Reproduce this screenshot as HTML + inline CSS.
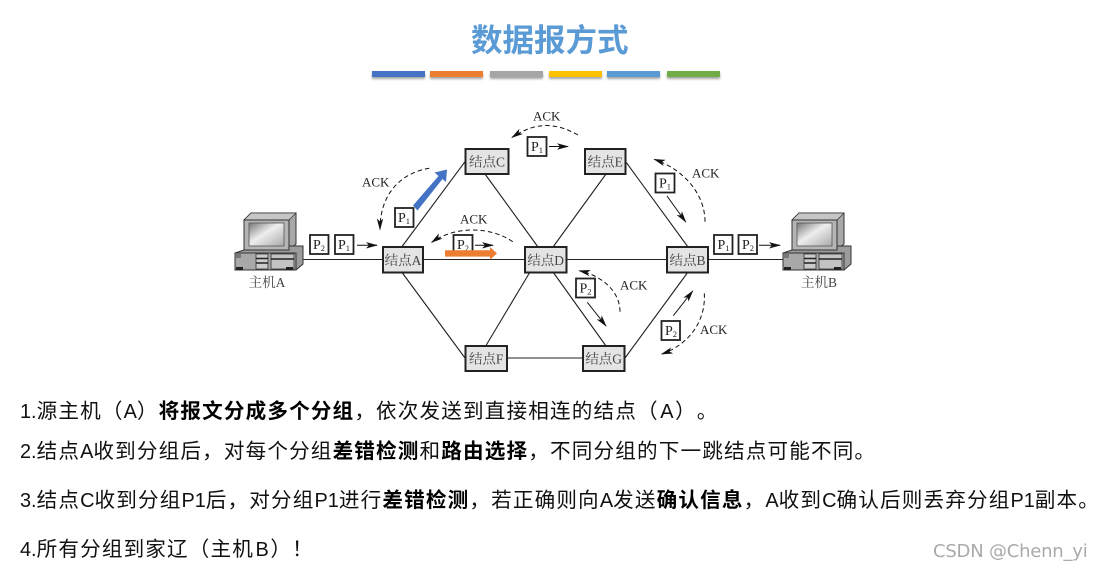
<!DOCTYPE html>
<html lang="zh-CN"><head><meta charset="utf-8"><title>数据报方式</title>
<style>
html,body{margin:0;padding:0;background:#fff}
body{position:relative;width:1101px;height:572px;overflow:hidden;font-family:"Liberation Sans","Noto Sans CJK SC",sans-serif}
.t{position:absolute;white-space:nowrap;color:#111;font-size:20.6px;letter-spacing:1.15px;line-height:28px;left:20px;text-spacing-trim:space-all;font-kerning:none}
.t i{font-style:normal;letter-spacing:0;font-size:19.9px}
.t i.m{margin:0 1.5px}
.t b{font-weight:700;color:#000}
.title{position:absolute;left:471px;top:14px;font-size:31.5px;line-height:48px;font-weight:700;color:#5b9bd5;white-space:nowrap;font-family:"Noto Sans CJK SC",sans-serif}
.bar{position:absolute;top:71px;height:6px;box-shadow:0 2px 2px rgba(90,90,90,.55)}
.wm{position:absolute;left:933px;top:540px;font-size:18px;line-height:24px;color:#aaa;white-space:nowrap;font-family:"DejaVu Sans",sans-serif;letter-spacing:-.22px}
svg{position:absolute;left:0;top:0;filter:blur(.35px)}
</style></head><body>
<div class="title">数据报方式</div>
<div class="bar" style="left:372px;width:53px;background:#4472c4"></div>
<div class="bar" style="left:430px;width:53px;background:#ed7d31"></div>
<div class="bar" style="left:490px;width:53px;background:#a5a5a5"></div>
<div class="bar" style="left:549px;width:53px;background:#ffc000"></div>
<div class="bar" style="left:607px;width:53px;background:#5b9bd5"></div>
<div class="bar" style="left:667px;width:53px;background:#70ad47"></div>

<svg width="1101" height="572" viewBox="0 0 1101 572" xmlns="http://www.w3.org/2000/svg">
<defs>
<marker id="h" viewBox="0 0 12 8" refX="11" refY="4" markerWidth="12" markerHeight="8" markerUnits="userSpaceOnUse" orient="auto"><path d="M0 .8 12 4 0 7.2 3 4z" fill="#111"/></marker>
<linearGradient id="scr" x1="0" y1="0" x2="1" y2="1"><stop offset="0" stop-color="#777"/><stop offset=".45" stop-color="#eee"/><stop offset="1" stop-color="#aaa"/></linearGradient>
<g id="pc">
<path d="M244 220 251 213 296 213 296 244 289 250 244 250z" fill="#a8a8a8" stroke="#333" stroke-width="1"/>
<path d="M244 220 251 213 296 213 289 220z" fill="#c6c6c6" stroke="#333" stroke-width=".7"/>
<rect x="244" y="220" width="45" height="30" fill="#b5b5b5" stroke="#333" stroke-width="1"/>
<rect x="249" y="223" width="35" height="23" fill="url(#scr)" stroke="#555" stroke-width=".8"/>
<path d="M289 246 303 246 303 264 296 270 235 270 235 253 244 250 289 250z" fill="#9c9c9c" stroke="#333" stroke-width="1"/>
<rect x="235" y="253" width="61" height="17" fill="#a8a8a8" stroke="#333" stroke-width="1"/>
<rect x="236" y="254" width="5" height="4" fill="#777"/>
<rect x="256" y="254" width="12" height="15" fill="#ccc" stroke="#333" stroke-width=".8"/>
<path d="M256 258.500h12M256 263h12" stroke="#222" stroke-width="1.400"/>
<rect x="271" y="254" width="23" height="15" fill="#c4c4c4" stroke="#333" stroke-width=".8"/>
<path d="M271 259h23" stroke="#222" stroke-width="1.400"/>
<rect x="236" y="267" width="7" height="3" fill="#222"/><rect x="286" y="267" width="7" height="3" fill="#222"/>
</g>
</defs>

<g stroke="#222" stroke-width="1.100" fill="none">
<path d="M303 259.500H783"/>
<path d="M401.700 247 465 161.700M485 174 538 247M606 174 553 247M625.700 161.700 688 247"/>
<path d="M401.700 272 465 358M530 272 485.700 346M553 272 606 346M688 272 625 358M507 358H583"/>
</g>

<use href="#pc"/>
<use href="#pc" x="548"/>

<g fill="#e4e4e4" stroke="#222" stroke-width="2">
<rect x="383" y="247" width="40" height="25.500"/>
<rect x="465.500" y="149" width="43" height="25"/>
<rect x="525" y="247" width="41.500" height="25.500"/>
<rect x="585" y="149" width="40.500" height="25"/>
<rect x="667" y="247" width="41" height="25.500"/>
<rect x="465.500" y="346" width="41.500" height="25"/>
<rect x="583" y="346" width="41.500" height="25"/>
</g>

<g font-family="'Liberation Serif','Noto Serif CJK SC',serif" font-size="13.500" fill="#444" text-anchor="middle">
<text x="403" y="265">结点A</text>
<text x="487" y="166.500">结点C</text>
<text x="545.700" y="265">结点D</text>
<text x="605.300" y="166.500">结点E</text>
<text x="687.500" y="265">结点B</text>
<text x="486.200" y="363.500">结点F</text>
<text x="603.700" y="363.500">结点G</text>
<text x="267" y="287">主机A</text>
<text x="819" y="287">主机B</text>
</g>

<g font-family="'Liberation Serif',serif" font-size="13" fill="#222">
<text x="362" y="186.500">ACK</text>
<text x="533" y="120.500">ACK</text>
<text x="460" y="223.500">ACK</text>
<text x="692" y="177.500">ACK</text>
<text x="620" y="289.500">ACK</text>
<text x="700" y="334">ACK</text>
</g>

<g fill="none" stroke="#111" stroke-width="1" stroke-dasharray="4.500 3" marker-end="url(#h)">
<path d="M429.300 168.300C405 172 380 190 380 229.500"/>
<path d="M578 135C555 122 535 122 512 137.500"/>
<path d="M512.700 241.700C490 226 455 226 431.700 242.300"/>
<path d="M705 221.700C705 195 685 170 654.300 159.300"/>
<path d="M620 311.700C620 292 603 276 579.300 270.700"/>
<path d="M704.300 293.300C706 322 688 345 661.700 354"/>
</g>

<g fill="none" stroke="#111" stroke-width="1" marker-end="url(#h)">
<path d="M357 245.300H377"/>
<path d="M475 245.300H493"/>
<path d="M549 146.500H568"/>
<path d="M759 245.300H780"/>
<path d="M667 196 685.700 222"/>
<path d="M587.300 302.300 606 326"/>
<path d="M673.300 315.700 692.700 291"/>
</g>

<g fill="#fff" stroke="#222" stroke-width="1.800">
<rect x="310" y="235" width="18.500" height="19"/>
<rect x="335" y="235" width="18.500" height="19"/>
<rect x="395" y="208" width="18.500" height="19"/>
<rect x="453.500" y="235" width="19" height="19"/>
<rect x="527.500" y="137" width="19" height="19"/>
<rect x="655.500" y="173.500" width="19" height="19"/>
<rect x="714" y="235" width="18.500" height="19"/>
<rect x="738.500" y="235" width="18.500" height="19"/>
<rect x="576" y="278.500" width="19" height="19"/>
<rect x="661.500" y="321" width="18.500" height="19"/>
</g>
<g font-family="'Liberation Serif',serif" font-size="14" fill="#222">
<text x="313" y="249">P<tspan font-size="8.500" dy="2">2</tspan></text>
<text x="338" y="249">P<tspan font-size="8.500" dy="2">1</tspan></text>
<text x="398" y="222">P<tspan font-size="8.500" dy="2">1</tspan></text>
<text x="457" y="249">P<tspan font-size="8.500" dy="2">2</tspan></text>
<text x="531" y="151">P<tspan font-size="8.500" dy="2">1</tspan></text>
<text x="659" y="187.500">P<tspan font-size="8.500" dy="2">1</tspan></text>
<text x="717.500" y="249">P<tspan font-size="8.500" dy="2">1</tspan></text>
<text x="742" y="249">P<tspan font-size="8.500" dy="2">2</tspan></text>
<text x="579.500" y="292.500">P<tspan font-size="8.500" dy="2">2</tspan></text>
<text x="665" y="335">P<tspan font-size="8.500" dy="2">2</tspan></text>
</g>

<path d="M413 205.500 L438.500 176 L434.500 172.500 L447 169.500 L446 182 L442.500 179 L417.500 210.500z" fill="#4472c4"/>
<path d="M445 250.200H490V247L497 253.400 490 259.800V256.600H445z" fill="#ed7d31"/>
</svg>

<div class="t" style="top:398px"><i>1.</i>源主机（<i>A</i>）<b>将报文分成多个分组</b>，依次发送到直接相连的结点（<i class="m">A</i>）。</div>
<div class="t" style="top:438px"><i>2.</i>结点<i>A</i>收到分组后，对每个分组<b>差错检测</b>和<b>路由选择</b>，不同分组的下一跳结点可能不同。</div>
<div class="t" style="top:487px"><i>3.</i>结点<i>C</i>收到分组<i>P1</i>后，对分组<i>P1</i>进行<b>差错检测</b>，若正确则向<i>A</i>发送<b>确认信息</b>，<i>A</i>收到<i>C</i>确认后则丢弃分组<i>P1</i>副本。</div>
<div class="t" style="top:536px"><i>4.</i>所有分组到家辽（主机<i class="m">B</i>）！</div>
<div class="wm">CSDN @Chenn_yi</div>
</body></html>
